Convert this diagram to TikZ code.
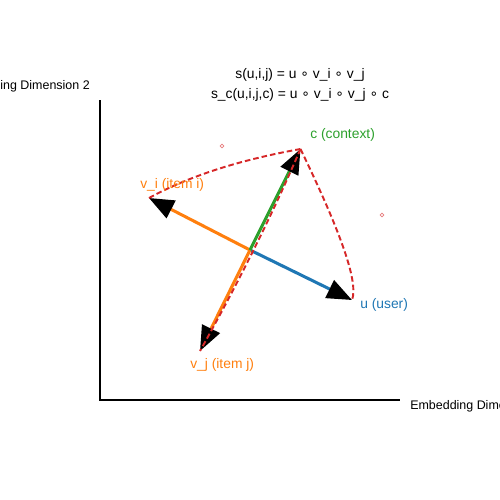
\documentclass[tikz,border=0pt]{standalone}
\usepackage{fontspec}
\setmainfont{Liberation Sans}
\newfontfamily\dvsfont{DejaVu Sans}
\newcommand\compo{{\dvsfont ∘}}
\usetikzlibrary{arrows.meta}
\definecolor{tabblue}{HTML}{1F77B4}
\definecolor{taborange}{HTML}{FF7F0E}
\definecolor{tabgreen}{HTML}{2CA02C}
\definecolor{tabred}{HTML}{D62728}
\begin{document}
\begin{tikzpicture}[x=0.01in,y=-0.01in,
  vec/.style={line width=2.2pt,-{Triangle[length=18pt,width=14pt,color=black,fill=black]}},
  relline/.style={tabred,line width=1.4pt,dash pattern=on 4pt off 2.2pt},
  lab/.style={anchor=west,inner sep=0pt,font=\fontsize{10pt}{12pt}\selectfont},
  axlab/.style={inner sep=0pt,font=\fontsize{9pt}{11pt}\selectfont},
  formula/.style={inner sep=0pt,font=\fontsize{10pt}{12pt}\selectfont},
  ctrlmark/.style={tabred,opacity=0.6,line width=0.5pt}]
\useasboundingbox (0,0) rectangle (500,500);
\clip (0,0) rectangle (500,500);
% axes
\coordinate (A0) at (100,400);
\coordinate (AX) at (400,400);
\coordinate (AY) at (100,100);
\draw[line width=1.3pt] (AY) -- (A0) -- (AX);
\node[axlab,anchor=west] (xlab) at (410,406) {Embedding Dimension 1};
\node[axlab,anchor=east] (ylab) at (90,86) {Embedding Dimension 2};
% vectors
\coordinate (O) at (250,250);
\coordinate (U) at (352,300);
\coordinate (VI) at (149,198);
\coordinate (VJ) at (200,351);
\coordinate (C) at (300.5,149);
\draw[vec,tabblue] (O) -- (U);
\draw[vec,taborange] (O) -- (VI);
\draw[vec,taborange] (O) -- (VJ);
\draw[vec,tabgreen] (O) -- (C);
% relation curves
\draw[relline] (VI) .. controls (189.3,176) and (239.3,160) .. (C);
\draw[relline] (C) .. controls (341.3,233.3) and (358.7,282.7) .. (U);
\draw[relline] (C) .. controls (271.3,216.7) and (238,283.3) .. (VJ);
% small markers
\draw[ctrlmark] (222,146) circle (1.8);
\draw[ctrlmark] (382,215) circle (1.8);
% labels
\node[lab,text=tabgreen] (clab) at (310,135) {c (context)};
\node[lab,text=taborange] (vilab) at (140,185) {v\_i (item i)};
\node[lab,text=tabblue] (ulab) at (360,305) {u (user)};
\node[lab,text=taborange] (vjlab) at (190,365) {v\_j (item j)};
\node[formula] (f1) at (300,75) {s(u,i,j) = u \compo{} v\_i \compo{} v\_j};
\node[formula] (f2) at (300,95) {s\_c(u,i,j,c) = u \compo{} v\_i \compo{} v\_j \compo{} c};
\end{tikzpicture}
\end{document}
